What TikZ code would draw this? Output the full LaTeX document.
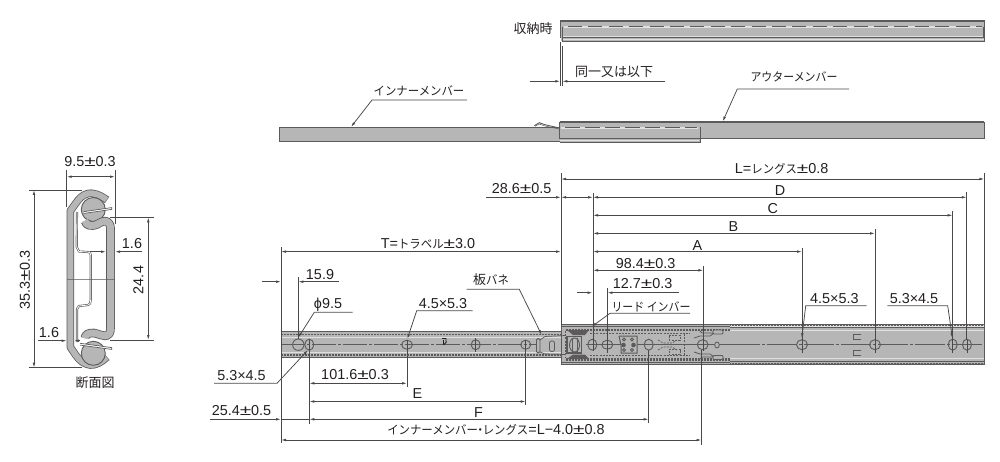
\documentclass[tikz,border=0pt]{standalone}
\usepackage{fontspec}
\setmainfont{Liberation Sans}
\newfontfamily\jpf{Noto Sans CJK JP}
\usetikzlibrary{arrows.meta}
\definecolor{railfill}{HTML}{B5B6B5}
\definecolor{ink}{HTML}{231F20}
\definecolor{linec}{HTML}{4A4848}
\definecolor{darkc}{HTML}{5C5A5A}
\definecolor{lightc}{HTML}{E0E0DE}
\newcommand{\jk}[1]{\scalebox{.95}[1]{\fontsize{12}{12}\selectfont\jpf #1}}
\newcommand{\jks}[1]{\scalebox{.91}[1]{\fontsize{12}{12}\selectfont\jpf #1}}
\newcommand{\jb}[1]{{\fontsize{13}{13}\selectfont\jpf #1}}
\newcommand{\plm}{\scalebox{1.45}[1]{±}}
\tikzset{
 lab/.style={inner sep=0pt,text=ink,font=\fontsize{14.4}{14.4}\selectfont,anchor=center},
 dimline/.style={draw=linec,line width=0.75pt},
 tip/.style={-{Latex[length=5pt,width=2.6pt]},dimline},
 bothtip/.style={{Latex[length=5pt,width=2.6pt]}-{Latex[length=5pt,width=2.6pt]},dimline},
 hole/.style={draw=darkc,line width=0.9pt},
 edge/.style={draw=darkc,line width=1pt},
 band/.style={draw=darkc,line width=1.7pt,dash pattern=on 2pt off 1pt},
 thin dash/.style={draw=darkc,line width=0.7pt,dash pattern=on 2pt off 1.2pt},
 slot/.style={draw=darkc,line width=0.8pt},
}
\begin{document}
\begin{tikzpicture}[x=1pt,y=-1pt]
\useasboundingbox (0,0) rectangle (1000,462);
%%%% top rail (stored)
\fill[railfill] (560.5,21) rectangle (984.5,41.5);
\draw[edge] (562.5,37.6) -- (984,37.6);
\draw[lightc,line width=0.8pt] (562.5,36.2) -- (983,36.2);
\draw[lightc,line width=0.9pt] (563,39.6) -- (984,39.6);
\draw[draw=darkc,line width=1.8pt] (560.5,21) -- (984.5,21);
\draw[edge] (560.5,20.5) -- (560.5,37.6);
\draw[edge] (562.7,27.5) -- (562.7,41.7) -- (984.5,41.7) -- (984.5,21);
\draw[edge] (983,27) -- (983,37.6);
\draw[lightc,line width=1.1pt] (564,27) -- (982,27);
\draw[draw=darkc,line width=1pt,dash pattern=on 14pt off 6.4pt] (568,27) -- (982,27);
\node[lab] (stored) at (533,29) {\jb{収納時}};
%%%% extension + "same or less"
\draw[dimline] (560.3,42) -- (560.3,86);
\draw[dimline] (562.3,46) -- (562.3,86);
\draw[tip] (530,81.3) -- (560.3,81.3);
\draw[tip] (665,81.3) -- (562.3,81.3);
\node[lab] (same) at (614,72) {\jb{同一又は以下}};
%%%% middle view
\fill[railfill] (279,128) rectangle (559.5,141.3);
\fill[railfill] (559.5,122) rectangle (984.3,139);
\fill[railfill] (559.5,139) rectangle (700,143);
\draw[draw=darkc,line width=1pt] (279,127.7) -- (559.5,127.7);
\draw[draw=darkc,line width=0.8pt] (279,127.7) -- (279,141.6) -- (559.5,141.6);
\draw[draw=darkc,line width=1.8pt] (559.5,122) -- (984.3,122);
\draw[edge] (559.5,122) -- (559.5,139) -- (984.3,139) -- (984.3,122);
\draw[lightc,line width=0.8pt] (560,140.4) -- (699,140.4);
\draw[edge] (560,142.9) -- (700,142.9) -- (700,127.5);
\draw[lightc,line width=1.1pt] (561,128) -- (698,128);
\draw[draw=darkc,line width=1pt,dash pattern=on 14.5pt off 5.5pt] (565,128) -- (697,128);
\draw[draw=darkc,line width=0.9pt] (534.3,125.7) -- (539.3,122.7) -- (545,124.7) -- (559.3,128);
\draw[draw=darkc,line width=0.5pt] (535,126.3) -- (539.3,124) -- (545,126) -- (559.3,129);
\draw[tip] (467,100) -- (372,100) -- (351,127);
\node[lab] (inner) at (419,91) {\jk{インナーメンバー}};
\draw[tip] (849,89) -- (737.3,89) -- (722.7,121.5);
\node[lab] (outer) at (794,76.5) {\jks{アウターメンバー}};
%%%% bottom view: inner rail
\fill[railfill] (281,331) rectangle (561,358);
\draw[edge] (281,331.4) -- (561,331.4);
\draw[edge] (281,357.6) -- (561,357.6);
\draw[band] (281,334.5) -- (561,334.5);
\draw[band] (281,355) -- (561,355);
\draw[lightc,line width=0.7pt] (281,337) -- (561,337);
\draw[lightc,line width=0.7pt] (281,352.5) -- (561,352.5);
\draw[draw=darkc,line width=1.2pt,dash pattern=on 24pt off 2pt on 3pt off 2pt] (281,344.7) -- (536,344.7);
%%%% outer rail
\fill[railfill] (561,325) rectangle (984.5,364);
\fill[lightc] (730,325) rectangle (984.5,327);
\draw[edge] (561,324.4) -- (984.5,324.4) -- (984.5,364) -- (561,364) -- cycle;
\draw[draw=darkc,line width=1.6pt] (730,327.3) -- (984.5,327.3);
\draw[draw=darkc,line width=1.6pt] (730,361.5) -- (984.5,361.5);
\draw[lightc,line width=0.9pt] (730,330.7) -- (984,330.7);
\draw[lightc,line width=0.9pt] (730,358.3) -- (984,358.3);
\draw[draw=darkc,line width=0.5pt,densely dotted] (730,325.4) -- (984,325.4);
\draw[draw=darkc,line width=0.5pt,densely dotted] (730,363) -- (984,363);
\draw[band,line width=2.2pt] (566,329.8) -- (730,329.8);
\draw[band,line width=2.2pt] (566,359.4) -- (730,359.4);
\draw[draw=darkc,line width=1pt] (561,326.6) -- (730,326.6);
\draw[draw=darkc,line width=1pt] (561,362.3) -- (730,362.3);
\draw[thin dash] (590,333.5) -- (690,333.5);
\draw[thin dash] (590,355.7) -- (690,355.7);
\draw[draw=darkc,line width=1.2pt,dash pattern=on 30pt off 2pt on 3pt off 2pt] (730,344.6) -- (984,344.6);
\draw[draw=darkc,line width=1pt] (586,344.7) -- (730,344.7);
%% slider
\fill[darkc] (567,330) -- (589,330) -- (585,335) -- (573,335) -- cycle;
\fill[darkc] (567,359) -- (589,359) -- (585,354.5) -- (573,354.5) -- cycle;
\draw[slot,line width=1.2pt,fill=railfill] (567,336.7) rectangle (581.7,353);
\draw[hole,fill=railfill] (574.5,345) ellipse (5 and 7);
\draw[slot] (572,338) -- (572,352);\draw[slot] (577,338) -- (577,352);
%% spring on inner rail
\draw[slot,fill=railfill,rounded corners=1.5pt] (536.5,338.5) rectangle (540,353);
\draw[slot,line width=0.7pt] (540,340) -- (545,336.5) -- (565,335.5);
\draw[slot,line width=0.7pt] (540,352) -- (545,354) -- (565,354.5);
\draw[slot,fill=railfill,rounded corners=2pt] (549.5,341) rectangle (554.5,351.5);
\draw[thin dash] (565,331) -- (565,358);
%% mechanism square
\draw[slot,line width=1pt,fill=railfill] (619,336) -- (637,336) -- (637,353) -- (621,353) -- (621,345) -- (619,336);
\fill[darkc] (623.5,345) circle (2.3);
\fill[darkc] (633.5,345) circle (2.3);
\draw[slot] (624,339.5) circle (1.5);
\draw[slot] (632,339.5) circle (1.5);
\draw[slot] (624,350) circle (1.5);
\draw[slot] (632,350) circle (1.5);
%% fork
\draw[thin dash] (658,340) -- (663,343) -- (672,343) -- (677,340);
\draw[thin dash] (658,350) -- (663,347) -- (672,347) -- (677,350);
\draw[thin dash] (669,335) -- (680,335) -- (680,340) -- (669,340) -- cycle;
\draw[thin dash] (669,349.5) -- (680,349.5) -- (680,354.5) -- (669,354.5) -- cycle;
\draw[thin dash] (684.5,334) -- (684.5,356);
%% tabs near hole 703
\draw[slot,fill=railfill] (694,338) -- (700,336) -- (710,336) -- (714,333) -- (702,333) -- (700,331) ;
\draw[slot,fill=railfill] (694,352) -- (700,354) -- (710,354) -- (714,357) -- (702,357) -- (700,359);
\draw[slot,fill=railfill,rounded corners=1pt] (713,330) rectangle (723,334);
\draw[slot,fill=railfill,rounded corners=1pt] (713,355.5) rectangle (723,359.5);
\draw[slot,fill=railfill] (717,345) ellipse (2.3 and 3);
%% small mark on inner rail
\draw[draw=ink,line width=0.9pt] (442,338.5) -- (446,338.5) .. controls (447,341) and (446,344) .. (443.5,345);
\draw[draw=ink,line width=0.9pt] (443,340) -- (443,344);
%% slots right
\foreach \sy in {336.8,352.8}{
 \draw[slot,line width=0.9pt] (861,\sy-2.3) -- (853,\sy-2.3) -- (853,\sy+2.3) -- (861,\sy+2.3);
 \fill[darkc] (853,\sy-2.8) rectangle (861,\sy-1.8);
}
%% holes
\foreach \hx/\rx/\ry in {298.3/5.7/5.7, 309.3/4.5/5.5, 407/5.4/4.5, 475.7/4.5/5, 525.7/5/4.5, 592.3/4.5/5.5, 607.3/5.5/4.5, 648.7/4.5/5.5, 702.7/5.4/5, 802/5.5/5, 875/5.5/5, 952.7/4.5/5.5, 967/4.5/5.5}{
 \draw[hole] (\hx,344.7) ellipse (\rx pt and \ry pt);
}
%% small center tick lines
\draw[dimline] (475.7,338) -- (475.7,352);
\draw[dimline] (802,340) -- (802,352.5);
\draw[dimline] (875,340) -- (875,353);
\draw[dimline] (952.7,340) -- (952.7,353);
\draw[dimline] (967,340) -- (967,353);
%%%% extension lines, top
\draw[dimline] (561,173.5) -- (561,325);
\draw[dimline] (593,193) -- (593,351);
\draw[dimline] (984.4,173.5) -- (984.4,324);
\draw[dimline] (966.8,192.5) -- (966.8,340);
\draw[dimline] (952.7,211) -- (952.7,340);
\draw[dimline] (875,229) -- (875,340);
\draw[dimline] (802,248) -- (802,340);
\draw[dimline] (703.4,266) -- (703.4,351);
\draw[dimline] (607.4,288) -- (607.4,353);
%%%% dimensions, top
\draw[bothtip] (561,179) -- (984.4,179);
\node[lab] (dL) at (781.7,169) {L=\jk{レングス}\plm 0.8};
\draw[bothtip] (593,197.3) -- (966.8,197.3);
\node[lab] (dD) at (780,190.5) {D};
\draw[bothtip] (593,215.3) -- (952.7,215.3);
\node[lab] (dC) at (772.7,209) {C};
\draw[bothtip] (593,233.4) -- (875,233.4);
\node[lab] (dB) at (733.3,227) {B};
\draw[bothtip] (593,251.6) -- (802,251.6);
\node[lab] (dA) at (697.3,245.5) {A};
\draw[bothtip] (593,270.3) -- (703.4,270.3);
\node[lab] (d98) at (645.7,263.7) {98.4\plm 0.3};
\draw[bothtip] (281,251.6) -- (561,251.6);
\node[lab] (dT) at (428,244) {T=\jk{トラベル}\plm 3.0};
\draw[tip] (486,197.3) -- (561,197.3) ;
\draw[bothtip] (561,197.3) -- (593,197.3);
\node[lab] (d28) at (521.7,188.7) {28.6\plm 0.5};
\draw[tip] (577,292.7) -- (592.6,292.7);
\draw[tip] (679,292.7) -- (607.4,292.7);
\node[lab] (d12) at (642.7,284) {12.7\plm 0.3};
\draw[tip] (690,313.3) -- (610,313.3) -- (591.7,326.7);
\node[lab] (lead) at (651,306.5) {\jks{リード インバー}};
\draw[tip] (466.7,289.3) -- (519.3,289.3) -- (541.7,335);
\node[lab] (spring) at (491,280) {\jb{板}\jk{バネ}};
\draw[tip] (866.7,305.7) -- (805.7,305.7) -- (801.8,338.3);
\node[lab] (h45r) at (834.3,298.3) {4.5×5.3};
\draw[tip] (887.3,305.7) -- (947.7,305.7) -- (952.4,338.3);
\node[lab] (h53r) at (914,298.3) {5.3×4.5};
%%%% dimensions, bottom left
\draw[dimline] (281,247) -- (281,443);
\draw[dimline] (298.3,277) -- (298.3,339);
\draw[dimline] (309.3,340) -- (309.3,424);
\draw[dimline] (407,340) -- (407,387);
\draw[dimline] (525.7,340) -- (525.7,405);
\draw[dimline] (648.7,350) -- (648.7,423);
\draw[dimline] (701.5,350) -- (701.5,445);
\draw[tip] (262,281.7) -- (281,281.7);
\draw[tip] (339,281.7) -- (298.3,281.7);
\node[lab] (d15) at (320,275) {15.9};
\draw[tip] (352.7,312.3) -- (314.3,312.3) -- (298.3,337.5);
\node[lab] (dphi) at (328,305) {ϕ9.5};
\draw[tip] (472.7,310.7) -- (416.7,310.7) -- (407.3,339);
\node[lab] (h45l) at (443,304) {4.5×5.3};
\draw[tip] (214,383.3) -- (277,383.3) -- (308,350);
\node[lab] (h53l) at (241.5,376) {5.3×4.5};
\draw[bothtip] (309.3,383.3) -- (407,383.3);
\node[lab] (d101) at (355,374.5) {101.6\plm 0.3};
\draw[bothtip] (309.3,401.5) -- (525.7,401.5);
\node[lab] (dE) at (417.5,394) {E};
\draw[tip] (210,419.3) -- (281,419.3);
\draw[dimline] (281,419.3) -- (309.3,419.3);
\draw[bothtip] (309.3,419.3) -- (648.7,419.3);
\node[lab] (dF) at (478.5,412.5) {F};
\node[lab] (d25) at (241.5,411) {25.4\plm 0.5};
\draw[bothtip] (281,440) -- (701.5,440);
\node[lab] (dInner) at (496,430) {\jk{インナーメンバー\hspace{-3.5pt}・\hspace{-3.5pt}レングス}=L−4.0\plm 0.8};
%%%% cross section
\draw[draw=darkc,line width=7.6pt,line join=round]
 (107,200) .. controls (99,194) and (92,192.5) .. (88,193.5) .. controls (82,195) and (79,199) .. (76,203) -- (70.3,211) -- (70.3,347) -- (76,355.5) .. controls (80,361) and (84,364) .. (90,365) .. controls (96,365.5) and (102,362) .. (107,357);
\draw[draw=railfill,line width=6pt,line join=round]
 (106.6,199.7) .. controls (99,194) and (92,192.5) .. (88,193.5) .. controls (82,195) and (79,199) .. (76,203) -- (70.3,211) -- (70.3,347) -- (76,355.5) .. controls (80,361) and (84,364) .. (90,365) .. controls (96,365.5) and (102,362) .. (106.6,357.3);
\draw[draw=darkc,fill=railfill,line width=0.9pt] (93.3,209.5) circle (12);
\draw[draw=darkc,fill=railfill,line width=0.9pt] (93.3,353.3) circle (12);
\draw[draw=darkc,line width=8.6pt,line join=round]
 (85,221) .. controls (86,226) and (92,226.5) .. (97,224.5) .. controls (101,222) and (104,220.5) .. (107,221.5) .. controls (110.5,224) and (110.5,226) .. (110.5,230) -- (110.5,328) .. controls (110.5,333) and (109,335.5) .. (106,336) .. controls (102,336) and (99,334) .. (94,333) .. controls (88,332.5) and (85,335) .. (85,338);
\draw[draw=railfill,line width=7pt,line join=round]
 (85,220.6) .. controls (86,226) and (92,226.5) .. (97,224.5) .. controls (101,222) and (104,220.5) .. (107,221.5) .. controls (110.5,224) and (110.5,226) .. (110.5,230) -- (110.5,328) .. controls (110.5,333) and (109,335.5) .. (106,336) .. controls (102,336) and (99,334) .. (94,333) .. controls (88,332.5) and (85,335) .. (85,338.4);
\draw[draw=darkc,line width=0.7pt,fill=white] (83.5,211.7) -- (111.7,207.6) -- (111.7,209.4) -- (83.5,213.5);
\draw[draw=darkc,line width=0.7pt,fill=white] (80,343.3) -- (111.7,347.6) -- (111.7,349.4) -- (80,345.1);
\draw[draw=darkc,line width=2.1pt,line join=round]
 (77,212) -- (76.7,247) -- (79,251.5) -- (88,252) .. controls (90,252) and (90.7,253) .. (90.7,255) -- (90.7,300) .. controls (90.7,303) and (90,304.5) .. (88,305) -- (79,306) -- (77,309) -- (77,342);
\draw[draw=white,line width=0.8pt,line join=round]
 (77,212) -- (76.7,247) -- (79,251.5) -- (88,252) .. controls (90,252) and (90.7,253) .. (90.7,255) -- (90.7,300) .. controls (90.7,303) and (90,304.5) .. (88,305) -- (79,306) -- (77,309) -- (77,342);
\draw[draw=darkc,line width=0.6pt,opacity=.7] (67,279) -- (115,279);
%% section dimensions
\draw[dimline] (66.7,170) -- (66.7,207);
\draw[dimline] (115,170) -- (115,224);
\draw[bothtip] (66.7,176.7) -- (115,176.7);
\node[lab] (s95) at (90,162) {9.5\plm 0.3};
\draw[dimline] (29,190) -- (82,190);
\draw[dimline] (29,367.7) -- (82,367.7);
\draw[bothtip] (34,190) -- (34,367.7);
\node[lab,rotate=90] (s35) at (25,280) {35.3\plm 0.3};
\draw[dimline] (110,217.3) -- (154,217.3);
\draw[dimline] (110,340) -- (154,340);
\draw[bothtip] (148.3,217.3) -- (148.3,340);
\node[lab,rotate=90] (s24) at (138.3,280) {24.4};
\draw[tip] (90,251.7) -- (106,251.7);
\draw[tip] (141.7,251.7) -- (115,251.7);
\node[lab] (s16a) at (132,244) {1.6};
\draw[tip] (38,340.7) -- (66.7,340.7);
\draw[tip] (79,340.7) -- (74,340.7);
\node[lab] (s16b) at (49,332.7) {1.6};
\node[lab] (scap) at (95,382.7) {\jb{断面図}};
\end{tikzpicture}
\end{document}
